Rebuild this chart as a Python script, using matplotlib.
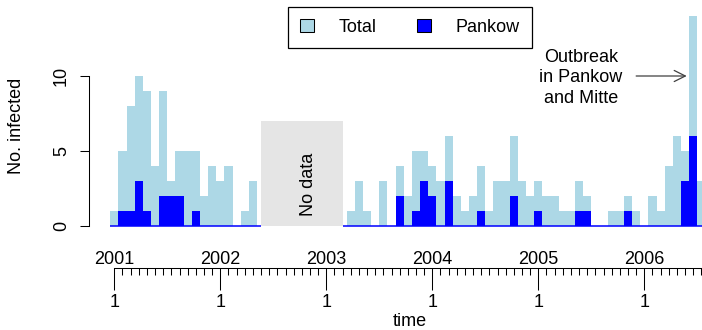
import numpy as np
import matplotlib
matplotlib.use("Agg")
import matplotlib.pyplot as plt
from matplotlib.patches import Rectangle, Patch

plt.rcParams['font.family'] = ['Liberation Sans', 'DejaVu Sans']

# ---------------- data (4-weekly counts, 13 periods per year) ----------------
years = [2001, 2002, 2003, 2004, 2005, 2006]
periods_per_year = 13
period_label = "1"
NA = None
total = [1, 5, 8, 10, 9, 4, 9, 3, 5, 5, 5, 2, 4, 3, 4, 0, 1, 3,
         NA, NA, NA, NA, NA, NA, NA, NA, NA, NA,
         0, 1, 3, 1, 0, 3, 0, 4, 2, 5, 5, 4, 3, 6, 2, 1, 2, 4, 1, 3, 3, 6, 3,
         2, 3, 2, 2, 1, 1, 3, 2, 0, 0, 1, 1, 2, 1, 0, 2, 1, 4, 6, 5, 14, 3]
pankow = [0, 1, 1, 3, 1, 0, 2, 2, 2, 0, 1, 0, 0, 0, 0, 0, 0, 0,
          NA, NA, NA, NA, NA, NA, NA, NA, NA, NA,
          0, 0, 0, 0, 0, 0, 0, 2, 0, 1, 3, 2, 0, 3, 0, 0, 0, 1, 0, 0, 0, 2, 0,
          0, 1, 0, 0, 0, 0, 1, 1, 0, 0, 0, 0, 1, 0, 0, 0, 0, 0, 0, 3, 6, 0]
nodata_height = 7
outbreak_label = "Outbreak\nin Pankow\nand Mitte"
outbreak_value = 10

# ---------------- derived ----------------
tot = np.array([np.nan if v is None else v for v in total], dtype=float)
pan = np.array([np.nan if v is None else v for v in pankow], dtype=float)
x = np.arange(len(tot))
na_idx = np.where(np.isnan(tot))[0]
nd_start, nd_end = na_idx[0], na_idx[-1] + 1
year_ticks = [i * periods_per_year for i in range(len(years))]
peak = int(np.nanargmax(tot))

LIGHT = '#ADD8E6'
BLUE = '#0000FF'
W, H = 702, 330
fs = 13

fig = plt.figure(figsize=(W / 100, H / 100), dpi=100)
ax_l, ax_b_px, ax_t_px = 89.3, 234.4, 7.6
ax = fig.add_axes([ax_l / W, (H - ax_b_px) / H, 1 - ax_l / W, (ax_b_px - ax_t_px) / H])
px_per = 8.154
xl = -(114.3 - ax_l) / px_per
ax.set_xlim(xl, xl + (W - ax_l) / px_per)
ax.set_ylim(-0.56, 14.56)

ax.bar(x, tot, width=1.0, color=LIGHT, linewidth=0, antialiased=False)
ax.bar(x, pan, width=1.0, color=BLUE, linewidth=0, antialiased=False)
ax.hlines([0, 0], [x[0] - 0.5, nd_end], [nd_start, x[-1] + 0.5], color=BLUE, lw=1.1)

ax.add_patch(Rectangle((nd_start, 0), nd_end - nd_start, nodata_height,
                       facecolor='#E5E5E5', edgecolor='none'))
ax.text((nd_start + nd_end) / 2 + 1.4, 2.8, "No data", rotation=90, ha='center',
        va='baseline', rotation_mode='anchor', fontsize=fs)

ax.text(57.24, 9.87, outbreak_label, ha='center', va='center', fontsize=fs,
        linespacing=1.3)
ax.annotate('', xy=(peak - 0.8, outbreak_value), xytext=(64.0, outbreak_value),
            arrowprops=dict(arrowstyle='->', color='#404040', lw=0.9,
                            mutation_scale=20, shrinkA=0, shrinkB=0))

# spines
for s in ['top', 'right']:
    ax.spines[s].set_visible(False)
ax.spines['left'].set_bounds(0, 10)
ax.spines['left'].set_linewidth(0.75)
ax.set_yticks([0, 5, 10])
ax.tick_params(axis='y', length=6.7, width=0.75, labelsize=fs, labelrotation=90, pad=7.3)
for lab in ax.get_yticklabels():
    lab.set_va('center')

ax.spines['bottom'].set_position(('outward', 24.4))
ax.spines['bottom'].set_bounds(0, ax.get_xlim()[1])
ax.spines['bottom'].set_linewidth(0.75)
ax.set_xticks(year_ticks, labels=[period_label] * len(years))
ax.set_xticks(x, minor=True)
ax.tick_params(axis='x', which='major', length=15.6, width=0.75, labelsize=fs, pad=3.0)
ax.tick_params(axis='x', which='minor', length=4.8, width=0.75)

sec = ax.secondary_xaxis(-0.1495)
sec.set_alignment('top')
sec.set_ticks(year_ticks, labels=[str(y) for y in years])
sec.tick_params(length=0, pad=0.5, labelsize=fs)
for s in sec.spines.values():
    s.set_visible(False)

ax.set_xlabel('time', fontsize=fs)
ax.xaxis.set_label_coords(0.5234, (3.5 - 95.6) / 226.8)
ax.xaxis.label.set_va('baseline')
ax.set_ylabel('No. infected', fontsize=fs)
ax.yaxis.set_label_coords(-0.112, 0.4801)
ax.yaxis.label.set_va('baseline')

handles = [Patch(facecolor=LIGHT, edgecolor='black', lw=0.75),
           Patch(facecolor=BLUE, edgecolor='black', lw=0.75)]
leg = fig.legend(handles, ['Total', 'Pankow'], ncol=2, loc='upper center',
                 bbox_to_anchor=(410 / W, 1 - 6.7 / H), borderaxespad=0,
                 fancybox=False, framealpha=1, edgecolor='black', fontsize=fs,
                 handlelength=0.75, handleheight=0.75, handletextpad=1.38,
                 columnspacing=2.25, borderpad=0.68)
leg.get_frame().set_linewidth(0.9)

fig.savefig('out.png', dpi=100)
